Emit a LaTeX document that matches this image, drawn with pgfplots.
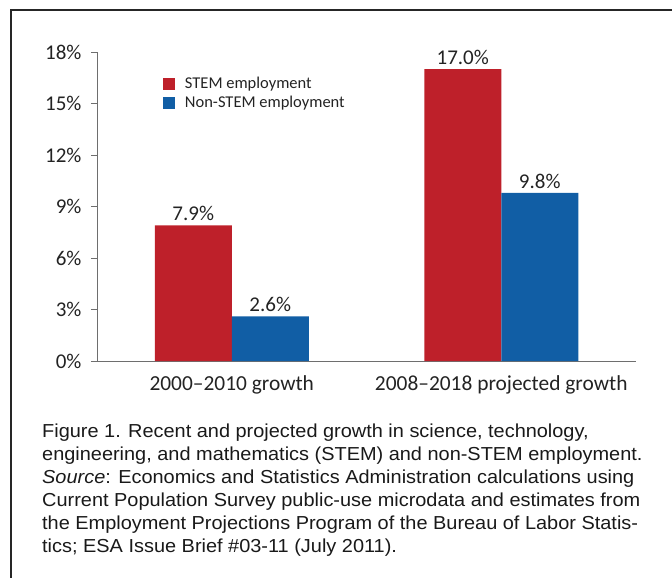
\documentclass[border=0pt]{standalone}
\usepackage{pgfplots}
\pgfplotsset{compat=1.18}
\usepackage{fontspec}
\setmainfont{Carlito}
\newfontfamily\capfont[FakeStretch=1.06]{Liberation Sans}
\definecolor{stemred}{RGB}{190,32,42}
\definecolor{nonblue}{RGB}{17,94,165}
\definecolor{axgray}{RGB}{110,110,110}
\definecolor{txt}{RGB}{35,35,35}

\begin{document}
\begin{tikzpicture}
\useasboundingbox (0,0) rectangle (672bp,-578bp);
% frame (only left and top edges show)
\draw[line width=1.6bp, black!85] (11bp,-578bp) -- (11bp,-10bp) -- (672bp,-10bp);
\begin{axis}[
    at={(97bp,-361bp)}, anchor=south west,
    scale only axis,
    width=539bp, height=309bp,
    xmin=-0.5, xmax=1.5,
    ymin=0, ymax=18,
    axis lines*=left,
    axis line style={axgray, line width=0.9bp},
    ybar,
    bar width=77bp,
    xtick={0,1},
    xticklabels={2000--2010 growth, 2008--2018 projected growth},
    major x tick style={draw=none},
    extra x ticks={0.5},
    extra x tick labels={},
    extra x tick style={tick align=outside, major tick length=6bp, tick style={axgray, line width=0.9bp}},
    ytick={0,3,...,18},
    yticklabel={\pgfmathprintnumber{\tick}\%},
    /pgf/number format/assume math mode=true,
    y tick label style={font=\fontsize{21bp}{25bp}\selectfont, text=txt, xshift=-6bp},
    x tick label style={font=\fontsize{21.4bp}{25bp}\selectfont, text=txt, yshift=-5bp},
    tick align=outside,
    major tick length=6bp,
    tick style={axgray, line width=0.9bp},
    nodes near coords={\pgfmathprintnumber[fixed,fixed zerofill,precision=1]{\pgfplotspointmeta}\%},
    every node near coord/.append style={font=\fontsize{21bp}{25bp}\selectfont, text=txt, yshift=1bp},
    legend style={at={(0.122,0.925)}, anchor=north west, draw=none, fill=none,
        font=\fontsize{16.5bp}{20bp}\selectfont, text=txt,
        row sep=2bp, inner sep=0pt},
    legend cell align=left,
    legend image code/.code={\fill[#1] (0bp,-6bp) rectangle (12bp,6bp); \path (20bp,0bp);},
]
\addplot[fill=stemred, draw=none, bar shift=-38.5bp] coordinates {(0,7.9) (1,17.0)};
\addlegendentry{STEM employment}
\addplot[fill=nonblue, draw=none, bar shift=38.5bp] coordinates {(0,2.6) (1,9.8)};
\addlegendentry{Non-STEM employment}
\end{axis}
\node[anchor=north west, align=left, inner sep=0pt, text=black!90,
      font=\capfont\fontsize{18.8bp}{23bp}\selectfont] at (42bp,-424bp) {%
Figure 1. Recent and projected growth in science, technology,\\
engineering, and mathematics (STEM) and non-STEM employment.\\
\textit{Source}: Economics and Statistics Administration calculations using\\
Current Population Survey public-use microdata and estimates from\\
the Employment Projections Program of the Bureau of Labor Statis-\\
tics; ESA Issue Brief \#03-11 (July 2011).};
\end{tikzpicture}
\end{document}
